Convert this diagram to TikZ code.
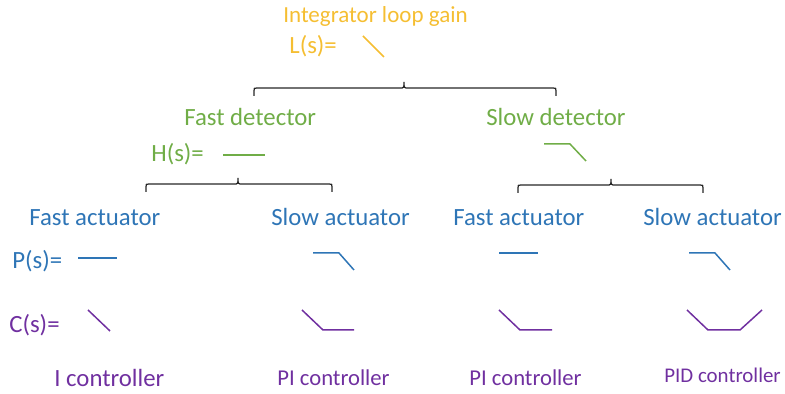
\documentclass[tikz,border=0pt]{standalone}
\usepackage{fontspec}
\setmainfont{Carlito}
\definecolor{loopcol}{RGB}{245,190,50}
\definecolor{detcol}{RGB}{112,173,71}
\definecolor{actcol}{RGB}{46,117,182}
\definecolor{ctrlcol}{RGB}{112,48,160}
% bracket: left x, tip x, right x, y of the flat part
\newcommand{\splitbrace}[4]{%
  \draw[bracket] (#1,#4+8) -- (#1,#4+3) .. controls (#1,#4) .. (#1+3,#4)
    -- (#2-4,#4) .. controls (#2,#4) .. (#2,#4-6) .. controls (#2,#4) .. (#2+4,#4)
    -- (#3-3,#4) .. controls (#3,#4) .. (#3,#4+3) -- (#3,#4+8);}

\begin{document}
\begin{tikzpicture}[x=0.02cm,y=-0.02cm,
  main node/.style={anchor=base west,inner sep=0pt,font=\fontsize{14.1}{17}\selectfont},
  loop node/.style={main node,text=loopcol},
  det node/.style={main node,text=detcol},
  act node/.style={main node,text=actcol},
  ctrl node/.style={main node,text=ctrlcol},
  curve/.style={line width=0.85pt,line join=round},
  bracket/.style={line width=0.7pt,draw=black!85}]
  \useasboundingbox (0,0) rectangle (785,394);

  % loop gain
  \node[loop node,font=\fontsize{13.1}{16}\selectfont] (loop) at (283,23) {Integrator loop gain};
  \node[loop node] (Ls) at (289,54) {L(s)=};
  \draw[curve,loopcol] (363,36) -- (384,57);
  \splitbrace{254}{404}{556}{88}

  % detectors
  \node[det node] (fastdet) at (184,126) {Fast detector};
  \node[det node] (slowdet) at (486,126) {Slow detector};
  \node[det node] (Hs) at (151,162) {H(s)=};
  \draw[curve,detcol] (223,155) -- (265,155);
  \draw[curve,detcol] (544,144) -- (570,144) -- (586,161);
  \splitbrace{146}{238}{332}{184}
  \splitbrace{518}{611}{703}{185}

  % actuators
  \node[act node] (fastact1) at (29,226)  {Fast actuator};
  \node[act node] (slowact1) at (271,226) {Slow actuator};
  \node[act node] (fastact2) at (453,226) {Fast actuator};
  \node[act node] (slowact2) at (643,226) {Slow actuator};
  \node[act node] (Ps) at (12,269) {P(s)=};
  \draw[curve,actcol] (78,258) -- (117,258);
  \draw[curve,actcol] (313,253) -- (339,253) -- (354,270);
  \draw[curve,actcol] (499,253) -- (538,253);
  \draw[curve,actcol] (689,253) -- (715,253) -- (730,270);

  % controllers
  \node[ctrl node] (Cs) at (9,333) {C(s)=};
  \draw[curve,ctrlcol] (88,310) -- (110,331);
  \draw[curve,ctrlcol] (302,310) -- (323,330) -- (354,330);
  \draw[curve,ctrlcol] (499,310) -- (520,330) -- (552,330);
  \draw[curve,ctrlcol] (687,310) -- (708,330) -- (740,330) -- (762,310);
  \node[ctrl node] (Ictrl) at (54,387) {I controller};
  \node[ctrl node,font=\fontsize{12.9}{15}\selectfont] (PIctrl1) at (277,386) {PI controller};
  \node[ctrl node,font=\fontsize{12.9}{15}\selectfont] (PIctrl2) at (469,386) {PI controller};
  \node[ctrl node,font=\fontsize{11.9}{14}\selectfont] (PIDctrl) at (664,383) {PID controller};
\end{tikzpicture}
\end{document}
